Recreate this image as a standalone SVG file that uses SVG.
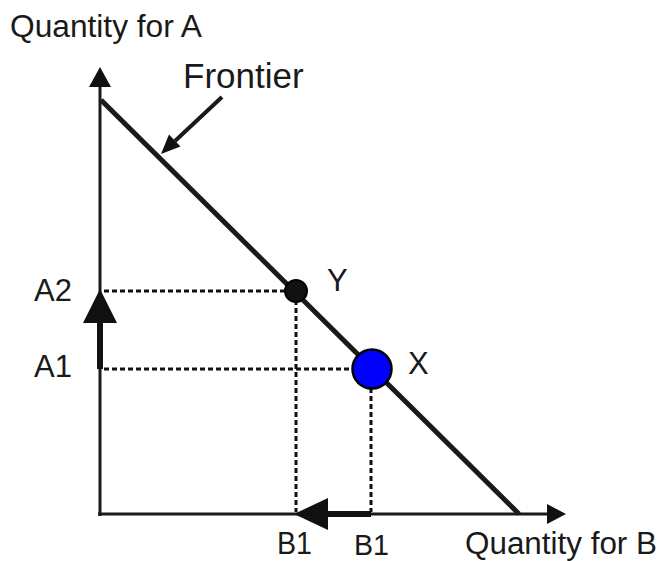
<svg xmlns="http://www.w3.org/2000/svg" width="661" height="561" viewBox="0 0 661 561">
<style>
.t{font-family:"Liberation Sans",Arial,sans-serif;fill:#1a1a1a;font-size:31px}
.ax{stroke:#1a1a1a;stroke-width:3;fill:none}
.dot{stroke:#111;stroke-width:3;stroke-dasharray:5,3;fill:none}
.hd{fill:#111}
</style>
<rect width="661" height="561" fill="#fff"/>
<g id="connectors">
<line class="ax" x1="100" y1="84" x2="100" y2="516"/>
<polygon class="hd" points="100,67 89,87 111,87"/>
<line class="ax" x1="98" y1="514" x2="549" y2="514"/>
<polygon class="hd" points="566,514 547,504 547,524"/>
<line id="frontier-line" x1="101" y1="100" x2="519" y2="514" stroke="#1a1a1a" stroke-width="5"/>
<line class="dot" x1="104" y1="291" x2="285" y2="291"/>
<line class="dot" x1="296" y1="300" x2="296" y2="512"/>
<line class="dot" x1="104" y1="369" x2="352" y2="369"/>
<line class="dot" x1="371" y1="388" x2="371" y2="512"/>
<line x1="100" y1="369" x2="100" y2="318" stroke="#111" stroke-width="6"/>
<polygon class="hd" points="100,289 83,323 117,323"/>
<line x1="371" y1="514" x2="324" y2="514" stroke="#111" stroke-width="6"/>
<polygon class="hd" points="294,514 328,498 328,530"/>
<line x1="222" y1="97" x2="175" y2="141" stroke="#1a1a1a" stroke-width="4"/>
<polygon class="hd" points="161,154 180.5,146.5 169,134.5"/>
</g>
<g id="point-Y"><circle cx="296" cy="291" r="11" fill="#111" stroke="#000" stroke-width="2"/></g>
<g id="point-X"><circle cx="372" cy="369" r="19.5" fill="#0000ff" stroke="#000" stroke-width="2.5"/></g>
<g id="labels">
<text class="t" x="10" y="37" textLength="192" lengthAdjust="spacingAndGlyphs">Quantity for A</text>
<text class="t" x="183" y="88" style="font-size:35px">Frontier</text>
<text class="t" x="34" y="301">A2</text>
<text class="t" x="34" y="377">A1</text>
<text class="t" x="327" y="291">Y</text>
<text class="t" x="408" y="374">X</text>
<text class="t" x="277" y="554" textLength="35" lengthAdjust="spacingAndGlyphs">B1</text>
<text class="t" x="354" y="555" textLength="35" lengthAdjust="spacingAndGlyphs" style="font-size:30px">B1</text>
<text class="t" x="465" y="554" textLength="192" lengthAdjust="spacingAndGlyphs">Quantity for B</text>
</g>
</svg>
